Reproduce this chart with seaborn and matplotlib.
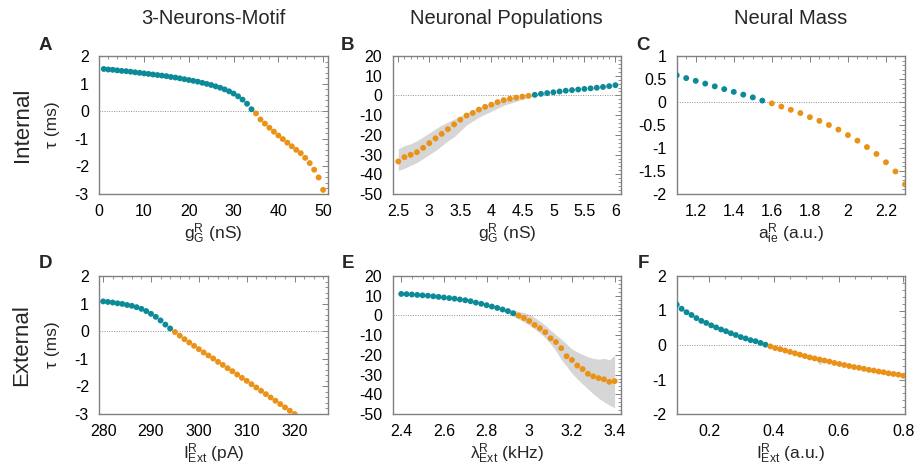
import numpy as np
import pandas as pd
import matplotlib
matplotlib.use("Agg")
import matplotlib.pyplot as plt
import seaborn as sns
from matplotlib.ticker import MultipleLocator, FuncFormatter

sns.set_theme(style="white")
plt.rcParams["font.family"] = ["Liberation Sans", "DejaVu Sans"]
plt.rcParams["mathtext.fontset"] = "custom"
plt.rcParams["mathtext.rm"] = "Liberation Sans"
plt.rcParams["mathtext.it"] = "Liberation Sans"
plt.rcParams["mathtext.bf"] = "Liberation Sans:bold"
plt.rcParams["axes.unicode_minus"] = False

TEAL = "#0b8a98"
ORANGE = "#ea9217"
BAND = "#d6d6d6"

# ---------------- data ----------------
col_titles = ["3-Neurons-Motif", "Neuronal Populations", "Neural Mass"]
row_titles = ["Internal", "External"]
panel_letters = ["A", "B", "C", "D", "E", "F"]

# A: tau vs g_G^R (nS), 3-neuron motif, internal
A_x = list(range(1, 51))
A_y = [1.53, 1.51, 1.50, 1.48, 1.46, 1.45, 1.43, 1.41, 1.39, 1.37,
       1.35, 1.33, 1.31, 1.29, 1.27, 1.24, 1.22, 1.19, 1.16, 1.13,
       1.10, 1.07, 1.03, 0.99, 0.95, 0.90, 0.85, 0.79, 0.72, 0.64,
       0.54, 0.42, 0.27, 0.07, -0.08, -0.30, -0.45, -0.60, -0.74, -0.88,
       -1.01, -1.14, -1.27, -1.40, -1.52, -1.69, -1.88, -2.12, -2.40, -2.85]

# B: tau vs g_G^R (nS), neuronal populations, internal (with spread band)
B_x = [2.5, 2.6, 2.7, 2.8, 2.9, 3.0, 3.1, 3.2, 3.3, 3.4, 3.5, 3.6,
       3.7, 3.8, 3.9, 4.0, 4.1, 4.2, 4.3, 4.4, 4.5, 4.6, 4.7, 4.8,
       4.9, 5.0, 5.1, 5.2, 5.3, 5.4, 5.5, 5.6, 5.7, 5.8, 5.9, 6.0]
B_y = [-33.5, -31.3, -30.1, -28.8, -26.6, -24.2, -21.8, -19.5, -17.1, -14.7,
       -12.3, -10.2, -8.9, -7.2, -5.8, -4.7, -3.4, -2.4, -1.7, -1.1,
       -0.6, -0.2, 0.3, 0.8, 1.2, 1.6, 2.0, 2.4, 2.7, 3.0,
       3.3, 3.6, 3.9, 4.3, 4.7, 5.2]
B_hi = [-27.0, -25.5, -24.5, -23.0, -21.0, -19.0, -17.0, -15.0, -13.5, -12.0,
        -10.5, -9.0, -7.5, -6.0, -5.0, -4.0, -3.0, -2.3, -1.6, -1.0,
        -0.5, 0.0, 0.6, 0.9, 1.3, 1.7, 2.1, 2.5, 2.8, 3.1,
        3.4, 3.7, 4.0, 4.4, 4.8, 5.3]
B_lo = [-38.0, -37.0, -35.5, -34.0, -32.0, -30.0, -28.0, -25.5, -23.0, -21.0,
        -18.0, -15.0, -13.0, -11.0, -9.5, -8.0, -6.5, -5.0, -4.0, -3.0,
        -2.0, -1.0, 0.0, 0.7, 1.1, 1.5, 1.9, 2.3, 2.6, 2.9,
        3.2, 3.5, 3.8, 4.2, 4.6, 5.1]

# C: tau vs a_ie^R (a.u.), neural mass, internal
C_x = [1.10, 1.15, 1.20, 1.25, 1.30, 1.35, 1.40, 1.45, 1.50, 1.55, 1.60, 1.65, 1.70,
       1.75, 1.80, 1.85, 1.90, 1.95, 2.00, 2.05, 2.10, 2.15, 2.20, 2.25, 2.30]
C_y = [0.58, 0.52, 0.46, 0.40, 0.34, 0.28, 0.22, 0.16, 0.10, 0.03,
       -0.03, -0.10, -0.17, -0.24, -0.33, -0.41, -0.50, -0.60, -0.72, -0.84,
       -0.98, -1.13, -1.31, -1.51, -1.79]

# D: tau vs I_Ext^R (pA), 3-neuron motif, external
D_x = list(range(280, 321))
D_y = [1.08, 1.06, 1.04, 1.01, 0.99, 0.95, 0.92, 0.87, 0.81, 0.73,
       0.63, 0.52, 0.39, 0.24, 0.10, -0.03, -0.16, -0.29, -0.41, -0.53,
       -0.65, -0.77, -0.88, -0.99, -1.11, -1.22, -1.34, -1.45, -1.57, -1.69,
       -1.80, -1.92, -2.04, -2.16, -2.28, -2.40, -2.52, -2.64, -2.76, -2.88,
       -3.00]

# E: tau vs lambda_Ext^R (kHz), neuronal populations, external (with band)
E_x = [2.400, 2.425, 2.450, 2.475, 2.500, 2.525, 2.550, 2.575, 2.600, 2.625,
       2.650, 2.675, 2.700, 2.725, 2.750, 2.775, 2.800, 2.825, 2.850, 2.875,
       2.900, 2.925, 2.950, 2.975, 3.000, 3.025, 3.050, 3.075, 3.100, 3.125,
       3.150, 3.175, 3.200, 3.225, 3.250, 3.275, 3.300, 3.325, 3.350, 3.375,
       3.400]
E_y = [10.9, 10.8, 10.6, 10.4, 10.2, 10.0, 9.7, 9.4, 9.1, 8.8,
       8.5, 8.1, 7.7, 7.2, 6.5, 5.9, 5.2, 4.5, 3.8, 3.0,
       2.2, 1.1, -0.1, -1.3, -2.8, -4.8, -6.5, -8.5, -11.6, -13.5,
       -16.6, -20.7, -22.6, -25.4, -27.2, -29.6, -30.9, -31.8, -32.4, -33.7,
       -33.3]
E_hi = [10.9, 10.8, 10.6, 10.4, 10.2, 10.0, 9.7, 9.4, 9.1, 8.8,
        8.5, 8.1, 7.7, 7.2, 6.5, 5.9, 5.3, 4.8, 4.3, 3.8,
        3.3, 2.7, 2.0, 1.4, 0.5, -1.0, -3.0, -5.0, -7.5, -9.8,
        -12.0, -14.5, -17.0, -18.5, -19.8, -21.0, -21.8, -22.2, -21.8, -22.5,
        -20.3]
E_lo = [10.9, 10.8, 10.6, 10.4, 10.2, 10.0, 9.7, 9.4, 9.1, 8.8,
        8.5, 8.1, 7.7, 7.2, 6.5, 5.9, 5.1, 4.2, 3.3, 2.2,
        1.0, -0.3, -1.8, -3.2, -4.9, -6.9, -9.0, -11.4, -14.4, -18.0,
        -22.4, -25.8, -29.4, -32.2, -34.8, -37.3, -39.8, -42.0, -43.8, -45.5,
        -46.8]

# F: tau vs I_Ext^R (a.u.), neural mass, external
F_x = [0.1000, 0.1152, 0.1304, 0.1457, 0.1609, 0.1761, 0.1913, 0.2065, 0.2217, 0.2370,
       0.2522, 0.2674, 0.2826, 0.2978, 0.3130, 0.3283, 0.3435, 0.3587, 0.3739, 0.3891,
       0.4043, 0.4196, 0.4348, 0.4500, 0.4652, 0.4804, 0.4957, 0.5109, 0.5261, 0.5413,
       0.5565, 0.5717, 0.5870, 0.6022, 0.6174, 0.6326, 0.6478, 0.6630, 0.6783, 0.6935,
       0.7087, 0.7239, 0.7391, 0.7543, 0.7696, 0.7848, 0.8000]
F_y = [1.17, 1.05, 0.95, 0.87, 0.78, 0.70, 0.64, 0.57, 0.51, 0.45,
       0.40, 0.34, 0.29, 0.23, 0.19, 0.14, 0.11, 0.06, 0.01, -0.04,
       -0.09, -0.12, -0.16, -0.20, -0.24, -0.28, -0.32, -0.36, -0.39, -0.42,
       -0.45, -0.48, -0.52, -0.55, -0.58, -0.61, -0.64, -0.66, -0.69, -0.72,
       -0.74, -0.77, -0.79, -0.82, -0.84, -0.86, -0.89]
F_hi = list(F_y)
F_lo = list(F_y)
F_hi[29] = -0.32
F_lo[29] = -0.57

# ---------------- layout ----------------
W, H = 919, 471
fig = plt.figure(figsize=(W / 100, H / 100), dpi=100)

col_left = [99.3, 392.7, 676.7]
col_w = 228.3
row_top = [56.0, 276.0]
row_h = 138.0


def gfmt(v, pos):
    return "%g" % round(v, 6)


panels = [
    dict(x=A_x, y=A_y, lo=None, hi=None, xlim=(0, 51), ylim=(-3, 2),
         xt=10, xm=2, yt=1, ym=0.2,
         xlabel=r"$\mathregular{g_G^R}$ (nS)"),
    dict(x=B_x, y=B_y, lo=B_lo, hi=B_hi, xlim=(2.41, 6.09), ylim=(-50, 20),
         xt=0.5, xm=0.1, yt=10, ym=2,
         xlabel=r"$\mathregular{g_G^R}$ (nS)"),
    dict(x=C_x, y=C_y, lo=None, hi=None, xlim=(1.1, 2.3), ylim=(-2, 1),
         xt=0.2, xm=0.05, yt=0.5, ym=0.1,
         xlabel=r"$\mathregular{a_{ie}^R}$ (a.u.)"),
    dict(x=D_x, y=D_y, lo=None, hi=None, xlim=(279.2, 326.9), ylim=(-3, 2),
         xt=10, xm=2, yt=1, ym=0.2,
         xlabel=r"$\mathregular{I_{Ext}^R}$ (pA)"),
    dict(x=E_x, y=E_y, lo=E_lo, hi=E_hi, xlim=(2.36, 3.43), ylim=(-50, 20),
         xt=0.2, xm=0.05, yt=10, ym=2,
         xlabel=r"$\mathregular{λ_{Ext}^R}$ (kHz)"),
    dict(x=F_x, y=F_y, lo=F_lo, hi=F_hi, xlim=(0.1, 0.805), ylim=(-2, 2),
         xt=0.2, xm=0.05, yt=1, ym=0.2,
         xlabel=r"$\mathregular{I_{Ext}^R}$ (a.u.)"),
]

FRAME = "#808080"
for i, p in enumerate(panels):
    r, c = divmod(i, 3)
    left = col_left[c] / W
    bottom = 1 - (row_top[r] + row_h) / H
    ax = fig.add_axes([left, bottom, col_w / W, row_h / H])
    if p["lo"] is not None:
        ax.fill_between(p["x"], p["lo"], p["hi"], color=BAND, lw=0, zorder=1)
    ax.axhline(0, color="#909090", ls=(0, (1, 1.5)), lw=0.7, zorder=2)
    yarr = np.asarray(p["y"])
    df = pd.DataFrame({"x": p["x"], "y": p["y"],
                       "sign": np.where(yarr > 0, "pos", "neg")})
    sns.scatterplot(data=df, x="x", y="y", hue="sign",
                    palette={"pos": TEAL, "neg": ORANGE},
                    s=18, linewidth=0, legend=False, ax=ax, zorder=3)
    ax.set_xlim(*p["xlim"])
    ax.set_ylim(*p["ylim"])
    ax.xaxis.set_major_locator(MultipleLocator(p["xt"]))
    ax.xaxis.set_minor_locator(MultipleLocator(p["xm"]))
    ax.yaxis.set_major_locator(MultipleLocator(p["yt"]))
    ax.yaxis.set_minor_locator(MultipleLocator(p["ym"]))
    ax.xaxis.set_major_formatter(FuncFormatter(gfmt))
    ax.yaxis.set_major_formatter(FuncFormatter(gfmt))
    ax.tick_params(which="both", direction="in", top=True, right=True,
                   colors=FRAME, labelcolor="black", labelsize=11.5)
    ax.tick_params(which="major", length=4, width=0.7)
    ax.tick_params(which="minor", length=2, width=0.6)
    ax.tick_params(axis="x", which="major", pad=7)
    ax.tick_params(axis="y", which="major", pad=7.5)
    for s in ax.spines.values():
        s.set_color(FRAME)
        s.set_linewidth(1.0)
    ax.set_xlabel(p["xlabel"], fontsize=12.5, labelpad=2)
    if c == 0:
        ax.set_ylabel("τ (ms)", fontsize=12.5)
        ax.yaxis.set_label_coords(-0.172, 0.5)
    else:
        ax.set_ylabel("")
    # panel letter
    lx = [45, 348, 643][c]
    ly = [45, 263][r]
    fig.text(lx / W, 1 - ly / H, panel_letters[i], fontsize=13.5,
             fontweight="bold", ha="center", va="center")

for c, t in enumerate(col_titles):
    cx = (col_left[c] + col_w / 2) / W
    fig.text(cx, 1 - 18 / H, t, fontsize=14.5, ha="center", va="center")

for r, t in enumerate(row_titles):
    cy = 1 - (row_top[r] + row_h / 2) / H
    fig.text(22 / W, cy, t, fontsize=16, rotation=90, ha="center", va="center")

fig.savefig("out.png", dpi=100)
